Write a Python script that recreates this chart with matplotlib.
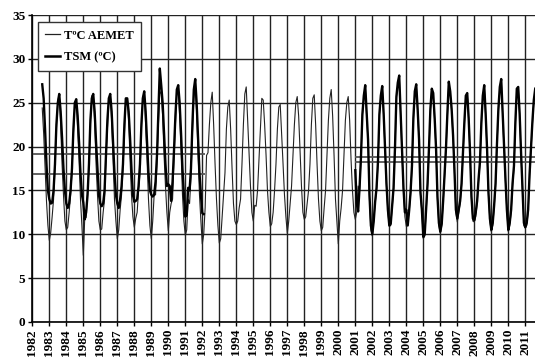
import numpy as np
import matplotlib
matplotlib.use("Agg")
import matplotlib.pyplot as plt
from matplotlib.lines import Line2D

plt.rcParams["font.family"] = ["Liberation Serif", "DejaVu Serif"]
plt.rcParams["font.weight"] = "bold"

# Monthly air temperature (AEMET), Aug 1982 .. Aug 2011, one row per year
aemet_start = (1982, 8)
aemet = [
    [24.4, 21.5, 17.5, 13.8, 11.0],
    [9.3, 10.2, 12.0, 14.0, 17.5, 22.0, 25.2, 26.0, 22.5, 18.0, 14.5, 11.5],
    [10.5, 10.8, 12.5, 14.5, 17.0, 21.5, 24.5, 25.4, 22.0, 18.5, 14.0, 11.0],
    [7.6, 11.8, 11.9, 15.0, 17.5, 22.5, 25.8, 25.6, 23.0, 18.0, 14.5, 11.5],
    [10.5, 10.6, 12.5, 14.0, 18.5, 22.0, 25.0, 26.0, 23.0, 18.5, 14.0, 11.5],
    [9.5, 10.5, 12.8, 14.5, 17.5, 21.5, 25.3, 25.2, 23.0, 18.5, 14.5, 12.0],
    [10.8, 11.8, 12.5, 15.0, 17.0, 22.0, 25.5, 26.2, 22.5, 18.5, 14.0, 11.0],
    [9.5, 11.5, 14.5, 14.5, 18.0, 22.5, 26.3, 26.0, 23.5, 19.0, 15.5, 12.5],
    [10.4, 12.5, 13.5, 14.0, 18.5, 22.5, 26.0, 26.5, 23.5, 19.5, 14.5, 11.5],
    [9.9, 10.5, 14.0, 13.5, 16.5, 21.5, 25.5, 26.5, 24.0, 19.0, 14.5, 11.5],
    [8.9, 10.0, 13.0, 19.0, 19.3, 22.5, 25.0, 26.2, 22.5, 18.0, 14.0, 11.0],
    [9.0, 9.5, 12.0, 14.5, 17.0, 22.0, 24.5, 25.3, 22.0, 17.5, 13.5, 11.5],
    [11.1, 11.5, 13.0, 14.0, 18.0, 22.5, 26.0, 26.8, 23.0, 19.0, 15.5, 12.5],
    [11.5, 13.3, 13.2, 15.0, 18.5, 22.0, 25.5, 25.3, 22.5, 19.0, 15.0, 12.5],
    [10.9, 11.2, 12.5, 15.0, 18.0, 22.0, 24.5, 24.8, 21.5, 18.0, 14.5, 12.0],
    [10.1, 11.5, 13.5, 15.5, 19.0, 22.5, 25.0, 25.7, 23.5, 19.5, 15.5, 12.5],
    [11.7, 12.0, 13.5, 15.0, 18.0, 22.5, 25.5, 25.9, 22.5, 18.0, 14.0, 11.5],
    [10.4, 10.8, 13.0, 15.0, 19.0, 23.0, 25.5, 26.5, 23.5, 19.0, 14.0, 11.5],
    [8.9, 11.5, 13.0, 15.0, 19.0, 23.0, 25.0, 25.7, 23.0, 18.5, 15.0, 12.5],
    [11.7, 12.5, 15.5, 15.0, 18.5, 23.5, 25.5, 27.0, 23.5, 20.5, 14.0, 10.5],
    [9.8, 11.5, 13.5, 15.0, 18.0, 23.5, 25.5, 26.8, 23.5, 19.5, 15.5, 12.5],
    [10.9, 11.0, 13.0, 15.0, 19.5, 25.5, 27.0, 28.1, 23.5, 19.0, 15.0, 12.0],
    [10.9, 11.5, 12.5, 14.5, 17.5, 23.0, 26.0, 27.1, 24.0, 20.5, 14.5, 12.5],
    [9.5, 9.8, 12.5, 15.5, 19.5, 24.0, 26.6, 25.8, 23.0, 19.5, 14.0, 11.0],
    [10.1, 11.0, 13.5, 16.5, 19.5, 23.5, 27.3, 26.0, 24.0, 21.0, 17.0, 12.5],
    [11.4, 12.5, 13.5, 15.5, 19.0, 22.5, 25.5, 26.1, 23.0, 19.0, 14.0, 11.5],
    [11.4, 12.0, 13.5, 16.0, 18.0, 22.5, 25.5, 27.0, 23.5, 19.5, 14.5, 11.5],
    [10.3, 11.0, 13.0, 15.5, 20.0, 24.0, 26.5, 27.7, 23.5, 19.5, 16.0, 12.5],
    [10.3, 11.0, 12.5, 15.5, 17.5, 22.5, 26.5, 26.8, 23.5, 19.0, 15.0, 11.0],
    [10.7, 11.0, 12.5, 16.5, 19.5, 22.5, 25.0, 26.3],
]

# Monthly sea surface temperature (TSM), two periods
tsm1_start = (1982, 8)
tsm1 = [
    [27.1, 25.5, 22.0, 18.0, 15.0],
    [14.0, 13.5, 13.6, 15.0, 18.0, 22.5, 25.0, 26.0, 24.0, 21.0, 17.5, 15.0],
    [13.5, 13.0, 13.5, 15.0, 17.5, 22.0, 25.0, 25.4, 23.5, 20.5, 17.0, 14.5],
    [13.6, 11.7, 12.5, 14.5, 18.0, 23.0, 25.5, 26.0, 24.0, 20.5, 17.5, 14.5],
    [13.5, 13.2, 13.5, 15.0, 19.0, 23.0, 25.5, 26.0, 24.0, 20.5, 17.0, 14.5],
    [13.5, 13.0, 14.0, 15.5, 18.0, 22.5, 25.5, 25.5, 24.0, 21.0, 17.5, 14.5],
    [13.7, 13.8, 14.0, 15.5, 18.0, 22.5, 25.5, 26.3, 24.0, 20.5, 17.0, 15.0],
    [14.5, 14.3, 14.5, 16.0, 19.0, 24.0, 28.9, 27.0, 25.0, 21.5, 18.0, 15.5],
    [15.7, 15.5, 13.8, 16.0, 19.5, 23.5, 26.5, 27.0, 25.0, 21.5, 17.5, 14.5],
    [12.0, 12.2, 15.3, 15.0, 17.5, 22.5, 26.5, 27.7, 25.0, 21.0, 17.0, 14.5],
    [12.4, 12.3],
]
tsm2_start = (2001, 1)
tsm2 = [
    [17.3, 13.5, 12.6, 15.3, 18.8, 23.7, 25.8, 27.0, 23.8, 20.8, 14.5, 11.0],
    [10.0, 11.5, 13.7, 15.3, 18.3, 23.7, 25.8, 26.9, 23.8, 19.8, 15.8, 12.8],
    [11.0, 11.2, 13.3, 15.3, 19.8, 25.7, 27.3, 28.1, 23.8, 19.3, 15.3, 12.5],
    [12.8, 11.0, 12.7, 14.8, 17.8, 23.3, 26.3, 27.1, 24.3, 20.8, 14.8, 12.8],
    [9.7, 10.0, 12.8, 15.8, 19.8, 24.3, 26.6, 26.1, 23.3, 19.8, 14.3, 11.3],
    [10.3, 11.2, 13.8, 16.8, 19.8, 23.8, 27.4, 26.3, 24.3, 21.3, 17.3, 12.8],
    [11.8, 12.8, 13.8, 15.8, 19.3, 22.8, 25.8, 26.1, 23.3, 19.3, 14.3, 11.8],
    [11.6, 12.5, 13.8, 16.3, 18.3, 22.8, 25.8, 27.0, 23.8, 19.8, 14.8, 11.8],
    [10.5, 11.3, 13.3, 15.8, 20.3, 24.3, 26.8, 27.7, 23.8, 19.8, 16.3, 12.8],
    [10.5, 11.3, 12.8, 15.8, 17.8, 22.8, 26.6, 26.8, 23.8, 19.3, 15.3, 11.3],
    [10.8, 11.3, 12.8, 16.8, 19.8, 22.8, 25.3, 26.6],
]

# Period means (horizontal reference lines)
mean_periods = [(1982.0, 1992.15), (2001.0, 2011.6)]
mean_tsm = [19.2, 18.8]
mean_aemet = [16.9, 18.2]

years = list(range(1982, 2012))


def to_series(rows, start):
    values = np.array([v for row in rows for v in row])
    x0 = start[0] + (start[1] - 1) / 12.0
    return x0 + np.arange(len(values)) / 12.0, values


fig = plt.figure(figsize=(5.35, 3.58), dpi=100)
ax = fig.add_axes([0.0604, 0.1006, 0.9396, 0.8575])

for i, (x0, x1) in enumerate(mean_periods):
    ax.hlines([mean_tsm[i], mean_aemet[i]], x0, x1, colors="#555555", lw=1.3, zorder=2)

xa, ya = to_series(aemet, aemet_start)
ax.plot(xa, ya, color="#222222", lw=0.8, zorder=3)
for rows, start in [(tsm1, tsm1_start), (tsm2, tsm2_start)]:
    xt, yt = to_series(rows, start)
    ax.plot(xt, yt, color="black", lw=1.7, zorder=4)

ax.set_xlim(1982, 1982 + 502.7 / 17)
ax.set_ylim(0, 35)
ax.set_yticks(range(0, 36, 5))
ax.set_xticks(years)
ax.set_xticklabels([str(y) for y in years], rotation=90, fontsize=9.5, fontweight="bold")
for lab in ax.get_yticklabels():
    lab.set_fontsize(9.5)
    lab.set_fontweight("bold")
ax.tick_params(axis="both", direction="out", length=3, width=1, pad=2, colors="black")

ax.grid(True, axis="both", color="#222222", lw=1.0, zorder=1)
ax.set_axisbelow(True)
ax.spines["right"].set_visible(False)
ax.spines["top"].set_visible(False)
ax.spines["left"].set_linewidth(1.2)
ax.spines["bottom"].set_linewidth(1.2)

handles = [
    Line2D([], [], color="#222222", lw=0.9),
    Line2D([], [], color="black", lw=1.8),
]
leg = ax.legend(handles, ["T\u00baC AEMET", "TSM (\u00baC)"], loc="upper left",
                bbox_to_anchor=(0.011, 0.977), borderaxespad=0, fancybox=False,
                framealpha=1, edgecolor="#333333", handlelength=1.2,
                handletextpad=0.3, labelspacing=0.8, borderpad=0.6,
                prop={"size": 9, "weight": "bold"})
leg.get_frame().set_linewidth(1.0)
leg.set_zorder(10)

fig.savefig("out.png", dpi=100)
